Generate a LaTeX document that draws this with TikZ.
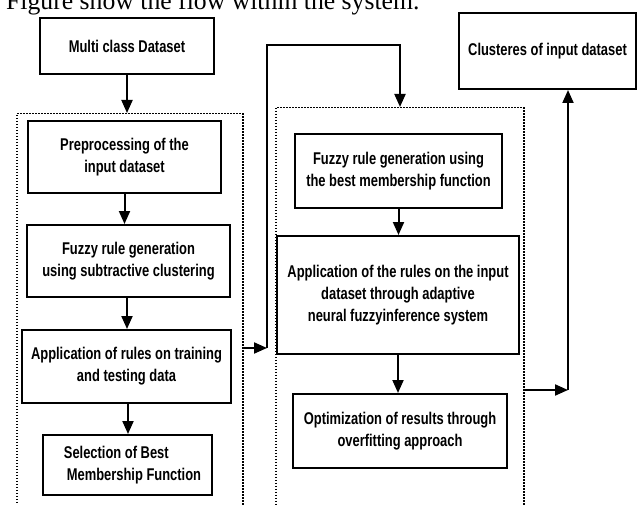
\documentclass[tikz,border=0pt]{standalone}
\usepackage{fontspec}
\setmainfont{Liberation Serif}
\newfontfamily\boxfont{Liberation Sans}[FakeStretch=0.76]
\usetikzlibrary{arrows.meta}
\tikzset{
  box/.style={draw, line width=2pt, font=\boxfont\bfseries\fontsize{17}{22}\selectfont, align=center, inner sep=0pt},
  dotbox/.style={draw, line width=1.5pt, dash pattern=on 1.5pt off 1.5pt, inner sep=0pt},
  arr/.style={line width=2pt, -{Triangle[length=13pt,width=11pt]}},
  caption/.style={font=\fontsize{25.7}{30}\selectfont, inner sep=0pt, anchor=base west}
}
\begin{document}
\begin{tikzpicture}[x=1pt,y=-1pt]
\clip (0,0) rectangle (639,505);
\fill[white] (0,0) rectangle (639,505);
\node[caption] (cap) at (6,10) {Figure show the flow within the system.};
% dotted groups
\node[dotbox, anchor=north west, minimum width=226pt, minimum height=420pt] (L) at (16,113) {};
\node[dotbox, anchor=north west, minimum width=248pt, minimum height=425pt] (R) at (275,107) {};
% boxes
\node[box, minimum width=174pt, minimum height=56pt] (multi) at (127,46) {Multi class Dataset};
\node[box, minimum width=193pt, minimum height=72pt] (pre) at (124.5,157) {Preprocessing of the\\input dataset};
\node[box, minimum width=203pt, minimum height=72pt] (fz1) at (128.5,261) {Fuzzy rule generation\\using subtractive clustering};
\node[box, minimum width=209pt, minimum height=73pt] (app1) at (126.5,366.5) {Application of rules on training\\and testing data};
\node[box, minimum width=169pt, minimum height=60pt, align=left] (sel) at (127.5,465) {\hspace*{10pt}Selection of Best\\\hspace*{13pt}Membership Function};
\node[box, minimum width=207pt, minimum height=74pt] (fz2) at (398.5,171) {Fuzzy rule generation using\\the best membership function};
\node[box, minimum width=242pt, minimum height=118pt] (app2) at (398,295) {Application of the rules on the input\\dataset through adaptive\\neural fuzzyinference system};
\node[box, minimum width=214pt, minimum height=74pt] (opt) at (400,431) {Optimization of results through\\overfitting approach};
\node[box, minimum width=177pt, minimum height=76pt] (clus) at (547.5,51) {Clusteres of input dataset};
% arrows
\draw[arr] (multi.south) -- (multi.south |- L.north);
\draw[arr] (pre.south) -- (pre.south |- fz1.north);
\draw[arr] ([xshift=-1.5pt]fz1.south) -- ([xshift=-1.5pt]fz1.south |- app1.north);
\draw[arr] ([xshift=1.5pt]app1.south) -- ([xshift=1.5pt]app1.south |- sel.north);
\draw[arr] (fz2.south) -- (fz2.south |- app2.north);
\draw[arr] (app2.south) -- (app2.south |- opt.north);
% link between groups
\coordinate (j1) at (267,348);
\coordinate (c1) at (267,45);
\coordinate (c2) at (400,45);
\draw[arr] (j1 -| L.east) -- (j1);
\draw[arr] (j1) -- (c1) -- (c2) -- (c2 |- R.north);
% link to clusters
\coordinate (j2) at (568,390);
\draw[arr] (j2 -| R.east) -- (j2);
\draw[arr] (j2) -- (j2 |- clus.south);
\end{tikzpicture}
\end{document}
